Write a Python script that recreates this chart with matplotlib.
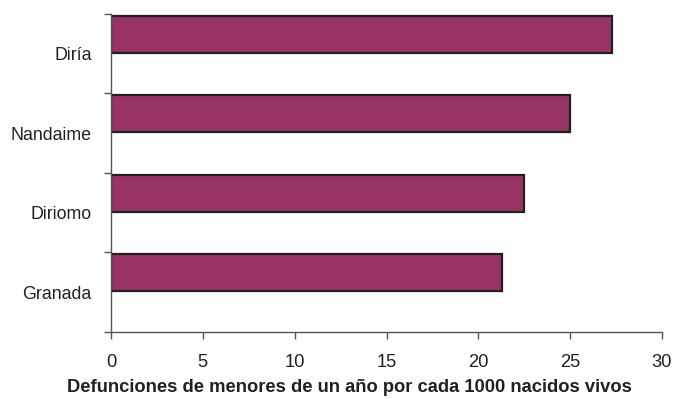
import numpy as np
import matplotlib
matplotlib.use("Agg")
import matplotlib.pyplot as plt

municipios = ["Diría", "Nandaime", "Diriomo", "Granada"]
tasas = [27.3, 25.0, 22.5, 21.3]
x_ticks = [0, 5, 10, 15, 20, 25, 30]

plt.rcParams["font.family"] = ["Liberation Sans", "DejaVu Sans"]

fig = plt.figure(figsize=(6.74, 3.99), dpi=100)
ax = fig.add_axes([0.1647, 0.168, 0.8175, 0.797])

pos = np.arange(len(municipios))
ax.barh(pos + 0.02, tasas, height=0.47, align="edge",
        color="#993366", edgecolor="#231f20", linewidth=1.6)

ax.set_xlim(0, 30)
ax.set_ylim(len(municipios), 0)
ax.set_xticks(x_ticks)
ax.set_yticks(pos + 0.5)
ax.set_yticklabels(municipios)
ax.set_yticks(np.arange(len(municipios) + 1), minor=True)

ax.tick_params(axis="y", which="major", length=0, pad=14, labelsize=12.8, colors="#231f20")
ax.tick_params(axis="y", which="minor", length=5, width=1, color="#555555")
ax.tick_params(axis="x", length=5, width=1, color="#555555", pad=11,
               labelsize=13.2, labelcolor="#231f20")

for side in ["top", "right"]:
    ax.spines[side].set_visible(False)
for side in ["left", "bottom"]:
    ax.spines[side].set_color("#555555")
    ax.spines[side].set_linewidth(1)

# titulo del eje x, centrado en la figura como en el original
fig.text(0.5186, 1 - 387 / 399, "Defunciones de menores de un año por cada 1000 nacidos vivos",
         ha="center", va="center", fontsize=13.2, fontweight="bold", color="#231f20")

fig.savefig("out.png", dpi=100)
